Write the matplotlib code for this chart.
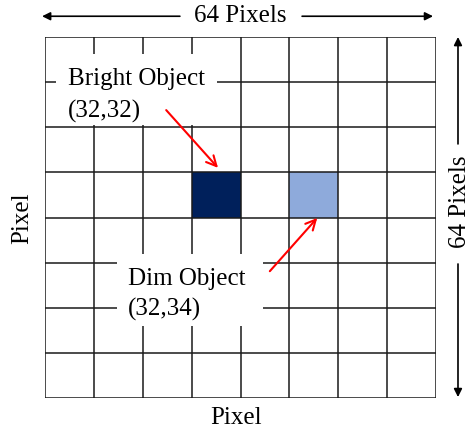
import matplotlib.pyplot as plt
from matplotlib.patches import Rectangle

plt.rcParams['font.family'] = ['Liberation Serif', 'DejaVu Serif']

# 8x8 grid standing for a 64x64 pixel image; (column, row), row 0 at top
n_cells = 8
image_pixels = 64
bright_cell = (3, 3)
dim_cell = (5, 3)
bright_coords = (32, 32)
dim_coords = (32, 34)
bright_color = '#00205b'
dim_color = '#8eaadb'

fig = plt.figure(figsize=(4.70, 4.31), dpi=100)
ax = fig.add_axes([45 / 470, 32 / 431, 391 / 470, 361 / 431])
ax.set_xlim(0, n_cells)
ax.set_ylim(n_cells, 0)
ax.axis('off')

# filled pixels
for cell, color in [(bright_cell, bright_color), (dim_cell, dim_color)]:
    ax.add_patch(Rectangle(cell, 1, 1, facecolor=color, edgecolor='none', zorder=1))

# grid
ax.vlines(range(n_cells + 1), 0, n_cells, color='#1a1a1a', lw=1.1, zorder=2)
ax.hlines(range(n_cells + 1), 0, n_cells, color='#1a1a1a', lw=1.1, zorder=2)

# white patches under the labels hide the grid
ax.add_patch(Rectangle((0.23, 0.38), 3.29, 1.56, facecolor='white', edgecolor='none', zorder=3))
ax.add_patch(Rectangle((1.47, 4.81), 2.99, 1.59, facecolor='white', edgecolor='none', zorder=3))
ax.text(0.47, 1.27, 'Bright Object\n(%d,%d)' % bright_coords, ha='left', va='center',
        fontsize=18, linespacing=1.55, zorder=4)
ax.text(1.70, 5.68, 'Dim Object\n(%d,%d)' % dim_coords, ha='left', va='center',
        fontsize=18, linespacing=1.45, zorder=4)

# red pointer arrows
red = dict(arrowstyle='->', color='red', lw=1.5, mutation_scale=18, shrinkA=0, shrinkB=0)
ax.annotate('', xy=(bright_cell[0] + 0.54, bright_cell[1] - 0.1), xytext=(2.48, 1.62),
            arrowprops=red, zorder=5)
ax.annotate('', xy=(dim_cell[0] + 0.57, dim_cell[1] + 1.01), xytext=(4.60, 5.19),
            arrowprops=red, zorder=5)

# dimension arrows
dim_arrow = dict(arrowstyle='-|>', color='black', lw=1.2, mutation_scale=12, shrinkA=0, shrinkB=0)
top_y = -0.46
ax.annotate('', xy=(-0.06, top_y), xytext=(2.76, top_y), arrowprops=dim_arrow, annotation_clip=False)
ax.annotate('', xy=(7.94, top_y), xytext=(5.26, top_y), arrowprops=dim_arrow, annotation_clip=False)
ax.text(4.0, top_y - 0.02, '%d Pixels' % image_pixels, ha='center', va='center', fontsize=18)

right_x = 8.45
ax.annotate('', xy=(right_x, 0.0), xytext=(right_x, 2.37), arrowprops=dim_arrow, annotation_clip=False)
ax.annotate('', xy=(right_x, 7.98), xytext=(right_x, 5.03), arrowprops=dim_arrow, annotation_clip=False)
ax.text(right_x + 0.04, 3.62, '%d Pixels' % image_pixels, ha='center', va='center',
        rotation=90, fontsize=18)

# axis names
ax.text(3.9, 8.42, 'Pixel', ha='center', va='center', fontsize=18)
ax.text(-0.47, 4.0, 'Pixel', ha='center', va='center', rotation=90, fontsize=18)

fig.savefig('out.png', dpi=100, facecolor='white')
